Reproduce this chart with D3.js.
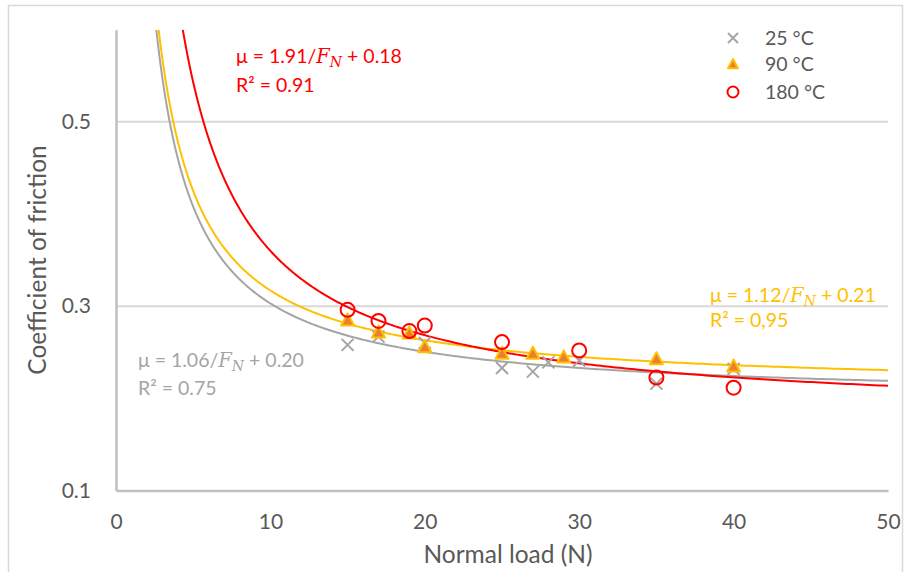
<!DOCTYPE html>
<html><head><meta charset="utf-8">
<script src="https://cdn.jsdelivr.net/npm/d3@7"></script>
<style>
html,body{margin:0;padding:0;background:#fff;}
svg{display:block;font-family:Lato,"Open Sans",sans-serif;}
</style></head>
<body>
<svg id="chart" width="906" height="572"></svg>
<script>
// ---- data ----
const seriesNames = ["25 °C", "90 °C", "180 °C"];
const load25 = [15, 17, 20, 25, 27, 28, 30, 35, 40];
const mu25   = [0.258, 0.267, 0.260, 0.233, 0.229, 0.239, 0.241, 0.216, 0.232];
const load90 = [15, 17, 19, 20, 25, 27, 29, 35, 40];
const mu90   = [0.285, 0.272, 0.271, 0.256, 0.249, 0.249, 0.245, 0.243, 0.235];
const load180 = [15, 17, 19, 20, 25, 30, 35, 40];
const mu180   = [0.296, 0.284, 0.273, 0.279, 0.261, 0.252, 0.2225, 0.2116];
// trendline fits mu = a/F + b (as drawn)
const fitA = [1.05, 1.08, 1.83];
const fitB = [0.198, 0.209, 0.177];
const fitLabelA = ["1.06", "1.12", "1.91"];
const fitLabelB = ["0.20", "0.21", "0.18"];
const fitLabelR2 = ["0.75", "0,95", "0.91"];
const xTicks = [0, 10, 20, 30, 40, 50];
const yTicks = [0.1, 0.3, 0.5];

const colors = ["#A5A5A5", "#FFC000", "#FF0000"];
const triFill = "#ED7D31";

const svg = d3.select("#chart");
const x = d3.scaleLinear().domain([0, 50]).range([116, 888]);
const y = d3.scaleLinear().domain([0.1, 0.6]).range([490.5, 29.7]);

// outer border
svg.append("rect").attr("x", 8.5).attr("y", 5.5).attr("width", 894).attr("height", 580)
  .attr("fill", "none").attr("stroke", "#D9D9D9").attr("stroke-width", 1.5);

// gridlines
svg.append("g").selectAll("line").data(yTicks.filter(d => d > 0.1)).join("line")
  .attr("x1", x(0)).attr("x2", x(50)).attr("y1", d => y(d)).attr("y2", d => y(d))
  .attr("stroke", "#D9D9D9").attr("stroke-width", 2);

// axes
const xAxis = d3.axisBottom(x).tickValues(xTicks).tickSize(0).tickPadding(24).tickFormat(d3.format("d"));
const gx = svg.append("g").attr("transform", `translate(0,${y(0.1)})`).call(xAxis);
gx.select(".domain").attr("stroke", "#BFBFBF").attr("stroke-width", 2.5);
gx.selectAll("text").attr("fill", "#595959").attr("font-size", 21).attr("font-family", "Lato");

const yAxis = d3.axisLeft(y).tickValues(yTicks).tickSize(0).tickPadding(25).tickFormat(d3.format(".1f"));
const gy = svg.append("g").attr("transform", `translate(${x(0)},0)`).call(yAxis);
gy.select(".domain").attr("stroke", "#BFBFBF").attr("stroke-width", 2.5);
gy.selectAll("text").attr("fill", "#595959").attr("font-size", 21).attr("font-family", "Lato");

// axis titles
svg.append("text").attr("x", 508).attr("y", 563).attr("text-anchor", "middle")
  .attr("fill", "#595959").attr("font-size", 24.5).text("Normal load (N)");
svg.append("text").attr("transform", "translate(46,260) rotate(-90)").attr("text-anchor", "middle")
  .attr("fill", "#595959").attr("font-size", 24.5).text("Coefficient of friction");

// trendlines
const clip = svg.append("clipPath").attr("id", "plotclip").append("rect")
  .attr("x", x(0)).attr("y", y(0.6)).attr("width", x(50) - x(0)).attr("height", y(0.1) - y(0.6));
const line = d3.line().x(d => x(d[0])).y(d => y(d[1])).curve(d3.curveLinear);
fitA.forEach((a, i) => {
  const b = fitB[i];
  const xStart = a / (0.6 - b);
  const pts = d3.range(0, 401).map(k => {
    const f = xStart * Math.pow(50 / xStart, k / 400);
    return [f, a / f + b];
  });
  svg.append("path").attr("d", line(pts)).attr("fill", "none")
    .attr("stroke", colors[i]).attr("stroke-width", 2).attr("clip-path", "url(#plotclip)");
});

// markers
function drawX(g, cx, cy, s) {
  g.append("path").attr("d", `M${cx - s},${cy - s}L${cx + s},${cy + s}M${cx - s},${cy + s}L${cx + s},${cy - s}`)
    .attr("stroke", colors[0]).attr("stroke-width", 2).attr("fill", "none");
}
function drawTri(g, cx, cy, s) {
  g.append("path").attr("d", `M${cx},${cy - s}L${cx + s},${cy + s * 0.85}L${cx - s},${cy + s * 0.85}Z`)
    .attr("fill", triFill).attr("stroke", colors[1]).attr("stroke-width", 2).attr("stroke-linejoin", "round");
}
function drawCirc(g, cx, cy, r) {
  g.append("circle").attr("cx", cx).attr("cy", cy).attr("r", r)
    .attr("fill", "none").attr("stroke", colors[2]).attr("stroke-width", 2);
}
const gm = svg.append("g");
load25.forEach((f, i) => drawX(gm, x(f), y(mu25[i]), 6));
load90.forEach((f, i) => drawTri(gm, x(f), y(mu90[i]), 6.5));
load180.forEach((f, i) => drawCirc(gm, x(f), y(mu180[i]), 7));

// legend
const legY = [38, 64, 92];
const gl = svg.append("g");
drawX(gl, 733, legY[0], 5);
drawTri(gl, 733, legY[1], 5);
drawCirc(gl, 733, legY[2], 5.5);
seriesNames.forEach((s, i) => {
  gl.append("text").attr("x", 765).attr("y", legY[i] + 7).attr("fill", "#595959")
    .attr("font-size", 19.5).text(s);
});

// equation labels
const labelPos = [[138, 367, 395], [710, 302, 327], [236, 63, 92]];
fitLabelA.forEach((a, i) => {
  const [lx, ly1, ly2] = labelPos[i];
  const t = svg.append("text").attr("x", lx).attr("y", ly1).attr("fill", colors[i]).attr("font-size", 19.5);
  t.append("tspan").text(`μ = ${a}/`);
  t.append("tspan").attr("font-family", "DejaVu Serif").attr("font-style", "italic").text("F");
  t.append("tspan").attr("font-family", "DejaVu Serif").attr("font-style", "italic")
    .attr("font-size", 14).attr("dy", 4).text("N");
  t.append("tspan").attr("dy", -4).text(` + ${fitLabelB[i]}`);
  const t2 = svg.append("text").attr("x", lx).attr("y", ly2).attr("fill", colors[i]).attr("font-size", 19.5);
  t2.text(`R² = ${fitLabelR2[i]}`);
});
</script>
</body></html>
